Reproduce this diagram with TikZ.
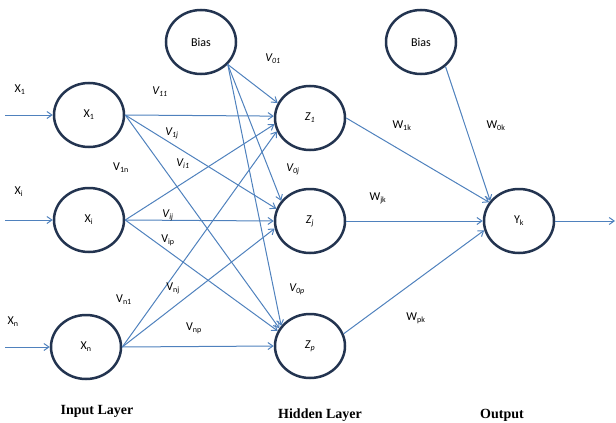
\documentclass[tikz,border=0pt]{standalone}
\usepackage{fontspec}
\setmainfont{Carlito}
\newfontfamily\tnr{Liberation Serif}
\usetikzlibrary{shapes.geometric,arrows.meta}
\definecolor{ring}{RGB}{35,52,80}
\definecolor{link}{RGB}{79,129,189}
\begin{document}
\begin{tikzpicture}[x=1pt,y=-1pt,
  neuron/.style={ellipse,draw=ring,line width=2.5pt,minimum width=70pt,minimum height=64pt,inner sep=0pt,font=\fontsize{12}{14}\selectfont},
  conn/.style={draw=link,line width=1pt,-{Straight Barb[length=5pt,width=7pt]}},
  lbl/.style={font=\fontsize{12}{14}\selectfont,inner sep=0pt},
  layer/.style={font=\tnr\bfseries\fontsize{14}{16}\selectfont,inner sep=0pt}]
\useasboundingbox (0,0) rectangle (616,423);
% nodes
\node[neuron] (X1) at (89,115) {X\textsubscript{1}};
\node[neuron] (Xi) at (89,220) {X\textsubscript{i}};
\node[neuron] (Xn) at (86,347) {X\textsubscript{n}};
\node[neuron] (B1) at (201,42) {Bias};
\node[neuron] (Z1) at (310,118) {\textit{Z\textsubscript{1}}};
\node[neuron] (Zj) at (310,221) {\textit{Z\textsubscript{j}}};
\node[neuron] (Zp) at (310,346) {\textit{Z\textsubscript{p}}};
\node[neuron] (B2) at (421,42) {Bias};
\node[neuron] (Yk) at (519,221) {Y\textsubscript{k}};
% free ends
\coordinate (in1) at (5,115);
\coordinate (ini) at (5,220);
\coordinate (inn) at (5,347);
\coordinate (out) at (615,221);
% inputs
\draw[conn] (in1) -- (X1);
\draw[conn] (ini) -- (Xi);
\draw[conn] (inn) -- (Xn);
% input -> hidden
\draw[conn] (X1.east) -- (Z1.177);
\draw[conn] (X1.east) -- (Zj.160);
\draw[conn] (X1.east) -- (Zp.150);
\draw[conn] (Xi.east) -- (Z1.190);
\draw[conn] (Xi.east) -- (Zj.west);
\draw[conn] (Xi.east) -- (Zp.155);
\draw[conn] (Xn.east) -- (Z1.202);
\draw[conn] (Xn.east) -- (Zj.192);
\draw[conn] (Xn.east) -- (Zp.west);
% bias -> hidden
\draw[conn] (B1.-40) -- (Z1.155);
\draw[conn] (B1.-40) -- (Zj.145);
\draw[conn] (B1.-40) -- (Zp.145);
% hidden -> output
\draw[conn] (Z1.east) -- (Yk.148);
\draw[conn] (Zj.east) -- (Yk.west);
\draw[conn] (Zp.20) -- (Yk.195);
\draw[conn] (B2.-45) -- (Yk.145);
\draw[conn] (Yk) -- (out);
% input labels
\node[lbl] (lx1) at (20,90) {X\textsubscript{1}};
\node[lbl] (lxi) at (19,192) {X\textsubscript{i}};
\node[lbl] (lxn) at (13,322) {X\textsubscript{n}};
% weight labels
\node[lbl] (v11) at (160,92) {\textit{V\textsubscript{11}}};
\node[lbl] (v1j) at (172,133) {\textit{V\textsubscript{1j}}};
\node[lbl] (v1n) at (121,168) {V\textsubscript{1n}};
\node[lbl] (vi1) at (183,164) {\textit{V\textsubscript{i1}}};
\node[lbl] (vij) at (168,215) {\textit{V\textsubscript{ij}}};
\node[lbl] (vip) at (168,240) {V\textsubscript{ip}};
\node[lbl] (vn1) at (124,300) {V\textsubscript{n1}};
\node[lbl] (vnj) at (173,288) {V\textsubscript{nj}};
\node[lbl] (vnp) at (194,328) {V\textsubscript{np}};
\node[lbl] (v01) at (273,59) {\textit{V\textsubscript{01}}};
\node[lbl] (v0j) at (293,169) {\textit{V\textsubscript{0j}}};
\node[lbl] (v0p) at (297,289) {\textit{V\textsubscript{0p}}};
\node[lbl] (w1k) at (402,126) {W\textsubscript{1k}};
\node[lbl] (w0k) at (496,126) {W\textsubscript{0k}};
\node[lbl] (wjk) at (378,198) {W\textsubscript{jk}};
\node[lbl] (wpk) at (416,318) {W\textsubscript{pk}};
% layer labels
\node[layer] (li) at (97,411) {Input Layer};
\node[layer] (lh) at (320,415) {Hidden Layer};
\node[layer] (lo) at (502,415) {Output};
\end{tikzpicture}
\end{document}
